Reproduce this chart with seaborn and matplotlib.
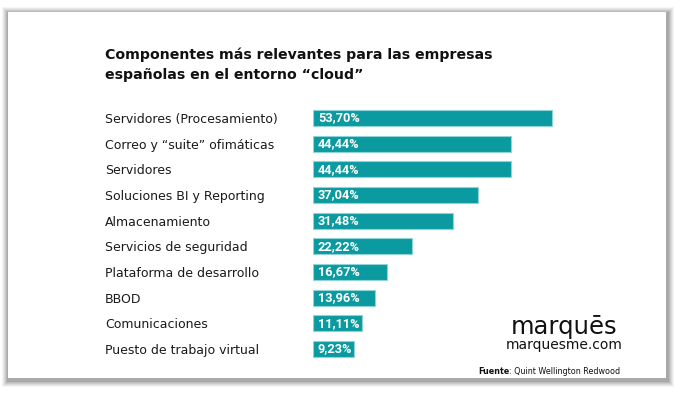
import matplotlib
matplotlib.use("Agg")
import matplotlib.pyplot as plt
import seaborn as sns
from matplotlib.patches import Rectangle

# data
categorias = [
    "Servidores (Procesamiento)",
    "Correo y \u201csuite\u201d ofimáticas",
    "Servidores",
    "Soluciones BI y Reporting",
    "Almacenamiento",
    "Servicios de seguridad",
    "Plataforma de desarrollo",
    "BBOD",
    "Comunicaciones",
    "Puesto de trabajo virtual",
]
valores = [53.70, 44.44, 44.44, 37.04, 31.48, 22.22, 16.67, 13.96, 11.11, 9.23]

titulo = "Componentes más relevantes para las empresas\nespañolas en el entorno \u201ccloud\u201d"
fuente = "Quint Wellington Redwood"

sns.set_theme(style="white")
plt.rcParams['font.family'] = ['DejaVu Sans']

W, H = 675, 393
fig = plt.figure(figsize=(W / 100, H / 100), dpi=100)
fig.patch.set_facecolor("white")

# card with soft drop shadow
for i, a in enumerate([0.04, 0.05, 0.06, 0.07, 0.08, 0.09]):
    d = 7 - i
    fig.patches.append(Rectangle(((8 - d + 1) / W, 1 - (378 + d + 2) / H),
                                 (658 + 2 * d) / W, (366 + 2 * d) / H,
                                 transform=fig.transFigure, facecolor="black",
                                 alpha=a, edgecolor="none", zorder=0))
fig.patches.append(Rectangle((8 / W, 1 - 378 / H), 658 / W, 366 / H,
                             transform=fig.transFigure, facecolor="white",
                             edgecolor="none", zorder=1))

# axes placement
left_px, top_px = 313, 105.2
step = 25.67
ax_h = step * len(categorias)
xmax = 60
ax_w = 239 * xmax / 53.70
ax = fig.add_axes([left_px / W, 1 - (top_px + ax_h) / H, ax_w / W, ax_h / H])
ax.set_facecolor("none")
ax.set_zorder(2)

sns.barplot(x=valores, y=categorias, color="#0a9aa0", width=0.63,
            edgecolor="#8fd3d6", linewidth=0.8, saturation=1, ax=ax)

ax.set_xlim(0, xmax)
ax.set_ylim(len(categorias) - 0.5, -0.5)
ax.set_xlabel("")
ax.set_ylabel("")
ax.set_xticks([])
for s in ax.spines.values():
    s.set_visible(False)

ax.tick_params(axis="y", length=0, pad=(313 - 105) * 0.72)
for lab in ax.get_yticklabels():
    lab.set_horizontalalignment("left")
    lab.set_fontsize(9.0)
    lab.set_color("#1a1a1a")

for i, v in enumerate(valores):
    txt = f"{v:.2f}".replace(".", ",") + "%"
    ax.annotate(txt, xy=(0, i), xytext=(3.5, 0), textcoords="offset points",
                ha="left", va="center", color="white", fontsize=9.2,
                fontweight="bold", family=["Roboto", "DejaVu Sans"])

fig.text(105 / W, 1 - 48 / H, titulo, ha="left", va="top", fontsize=10.2,
         fontweight="bold", color="#111111", linespacing=1.5)

# logo and source
fig.text(564 / W, 1 - 327 / H, "marquēs", ha="center", va="center",
         fontsize=17.5, color="#111111")
fig.text(564 / W, 1 - 345 / H, "marquesme.com", ha="center", va="center",
         fontsize=10, color="#111111")
t1 = fig.text(478 / W, 1 - 371 / H, "Fuente", ha="left", va="center",
              fontsize=5.8, fontweight="bold", color="#111111")
fig.canvas.draw()
bb = t1.get_window_extent()
fig.text(bb.x1 / W, 1 - 371 / H, ": " + fuente, ha="left", va="center",
         fontsize=5.8, color="#111111")

fig.savefig("out.png", dpi=100)
